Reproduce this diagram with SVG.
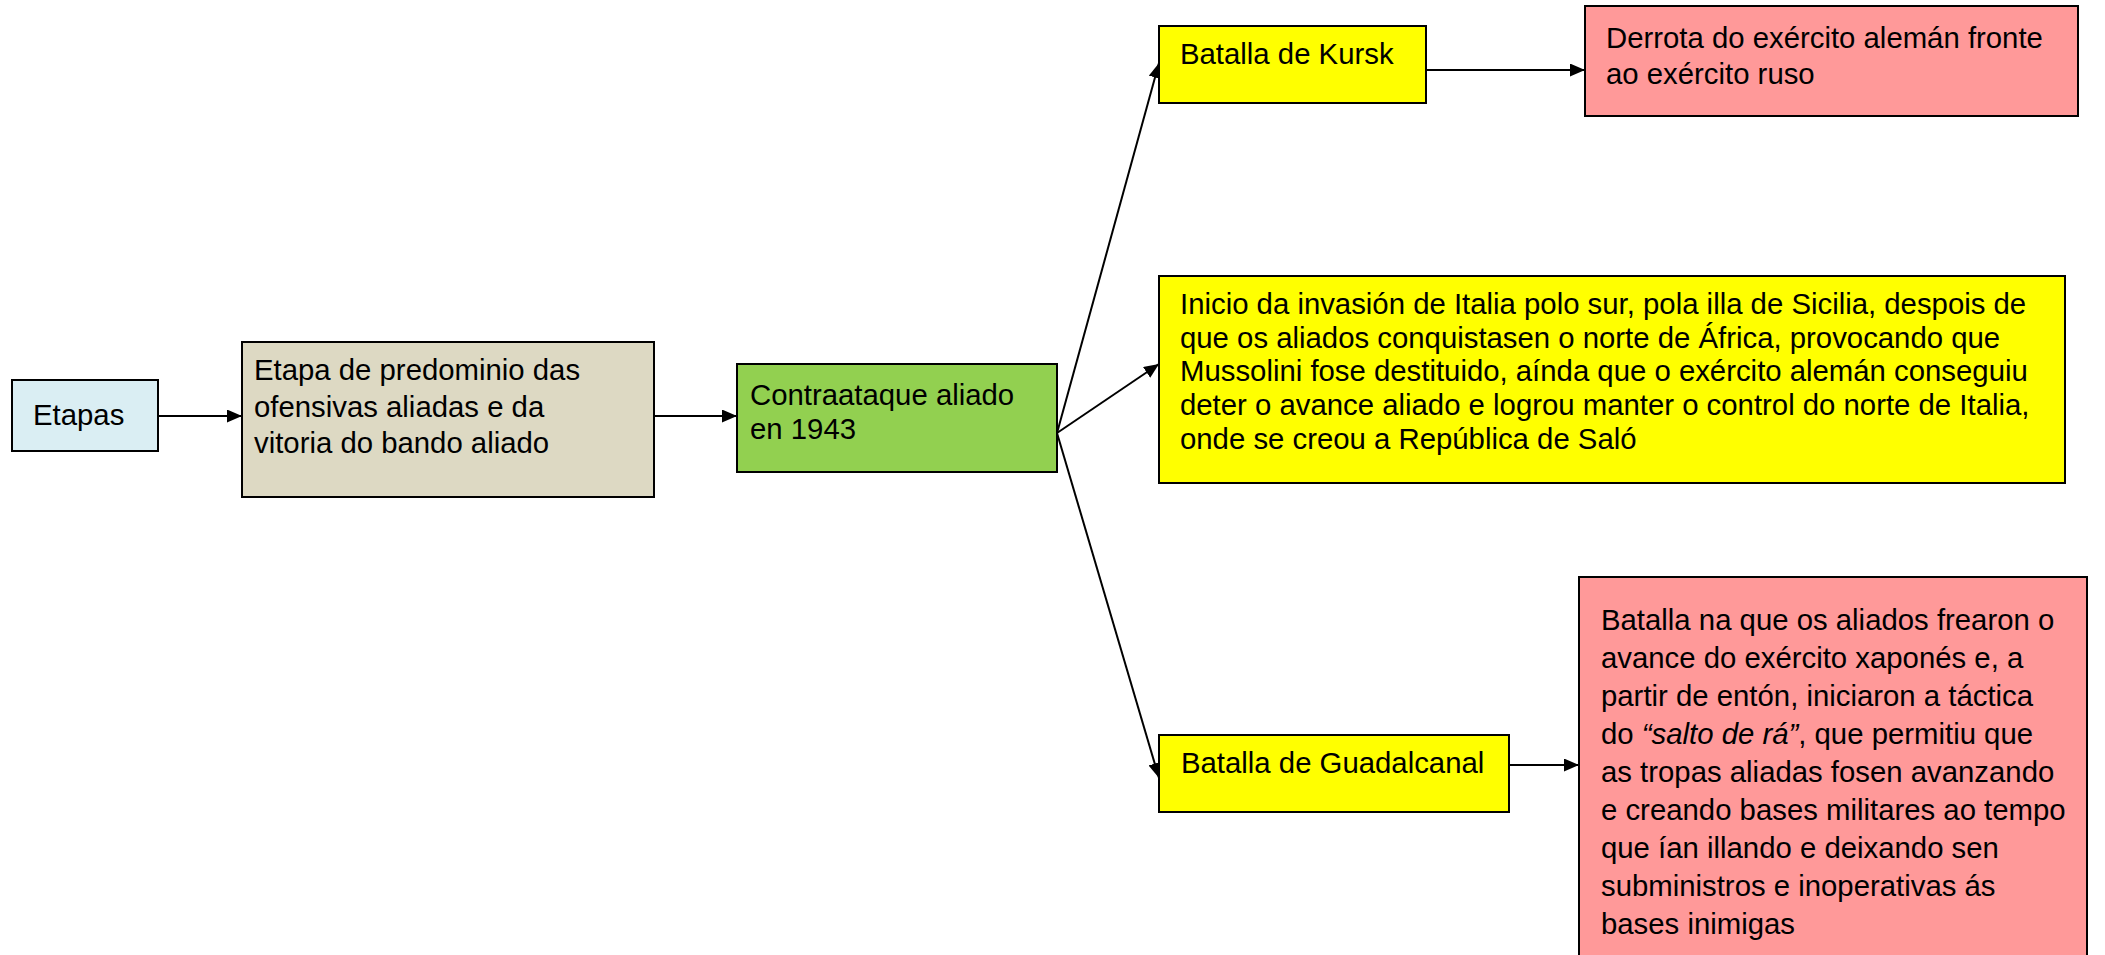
<svg xmlns="http://www.w3.org/2000/svg" width="2105" height="955" viewBox="0 0 2105 955">
<defs>
<marker id="arr" markerUnits="userSpaceOnUse" markerWidth="15" markerHeight="13" refX="15" refY="6.5" orient="auto">
<path d="M0,0 L15,6.5 L0,13 z" fill="#000"/>
</marker>
<style>
.box{stroke:#000;stroke-width:2}
.t{font-family:"Liberation Sans",Arial,sans-serif;font-size:29.33px;fill:#000}
.c{stroke:#000;stroke-width:2;fill:none;marker-end:url(#arr)}
</style>
</defs>
<rect width="2105" height="955" fill="#fff"/>
<g id="connectors">
<line class="c" x1="158" y1="416" x2="242" y2="416"/>
<line class="c" x1="654" y1="416" x2="737" y2="416"/>
<line class="c" x1="1057" y1="433" x2="1159" y2="63"/>
<line class="c" x1="1057" y1="433" x2="1159" y2="364"/>
<line class="c" x1="1057" y1="433" x2="1159" y2="778"/>
<line class="c" x1="1426" y1="70" x2="1585" y2="70"/>
<line class="c" x1="1509" y1="765" x2="1579" y2="765"/>
</g>
<g id="etapas">
<rect class="box" x="12" y="380" width="146" height="71" fill="#DAEEF3"/>
<text class="t" x="33" y="425">Etapas</text>
</g>
<g id="etapa-predominio">
<rect class="box" x="242" y="342" width="412" height="155" fill="#DDD9C3"/>
<text class="t" x="254" y="380">Etapa de predominio das</text>
<text class="t" x="254" y="416.5">ofensivas aliadas e da</text>
<text class="t" x="254" y="453">vitoria do bando aliado</text>
</g>
<g id="contraataque">
<rect class="box" x="737" y="364" width="320" height="108" fill="#92D050"/>
<text class="t" x="750" y="405">Contraataque aliado</text>
<text class="t" x="750" y="439">en 1943</text>
</g>
<g id="kursk">
<rect class="box" x="1159" y="26" width="267" height="77" fill="#FFFF00"/>
<text class="t" x="1180" y="64">Batalla de Kursk</text>
</g>
<g id="derrota">
<rect class="box" x="1585" y="6" width="493" height="110" fill="#FF9999"/>
<text class="t" x="1606" y="48">Derrota do exército alemán fronte</text>
<text class="t" x="1606" y="84">ao exército ruso</text>
</g>
<g id="italia">
<rect class="box" x="1159" y="276" width="906" height="207" fill="#FFFF00"/>
<text class="t" x="1180" y="314">Inicio da invasión de Italia polo sur, pola illa de Sicilia, despois de</text>
<text class="t" x="1180" y="347.7">que os aliados conquistasen o norte de África, provocando que</text>
<text class="t" x="1180" y="381.4">Mussolini fose destituido, aínda que o exército alemán conseguiu</text>
<text class="t" x="1180" y="415.1">deter o avance aliado e logrou manter o control do norte de Italia,</text>
<text class="t" x="1180" y="448.8">onde se creou a República de Saló</text>
</g>
<g id="guadalcanal">
<rect class="box" x="1159" y="735" width="350" height="77" fill="#FFFF00"/>
<text class="t" x="1181" y="773">Batalla de Guadalcanal</text>
</g>
<g id="guadalcanal-detalle">
<rect class="box" x="1579" y="577" width="508" height="400" fill="#FF9999"/>
<text class="t" x="1601" y="630">Batalla na que os aliados frearon o</text>
<text class="t" x="1601" y="668">avance do exército xaponés e, a</text>
<text class="t" x="1601" y="706">partir de entón, iniciaron a táctica</text>
<text class="t" x="1601" y="744">do <tspan font-style="italic">“salto de rá”</tspan>, que permitiu que</text>
<text class="t" x="1601" y="782">as tropas aliadas fosen avanzando</text>
<text class="t" x="1601" y="820">e creando bases militares ao tempo</text>
<text class="t" x="1601" y="858">que ían illando e deixando sen</text>
<text class="t" x="1601" y="896">subministros e inoperativas ás</text>
<text class="t" x="1601" y="934">bases inimigas</text>
</g>
</svg>
